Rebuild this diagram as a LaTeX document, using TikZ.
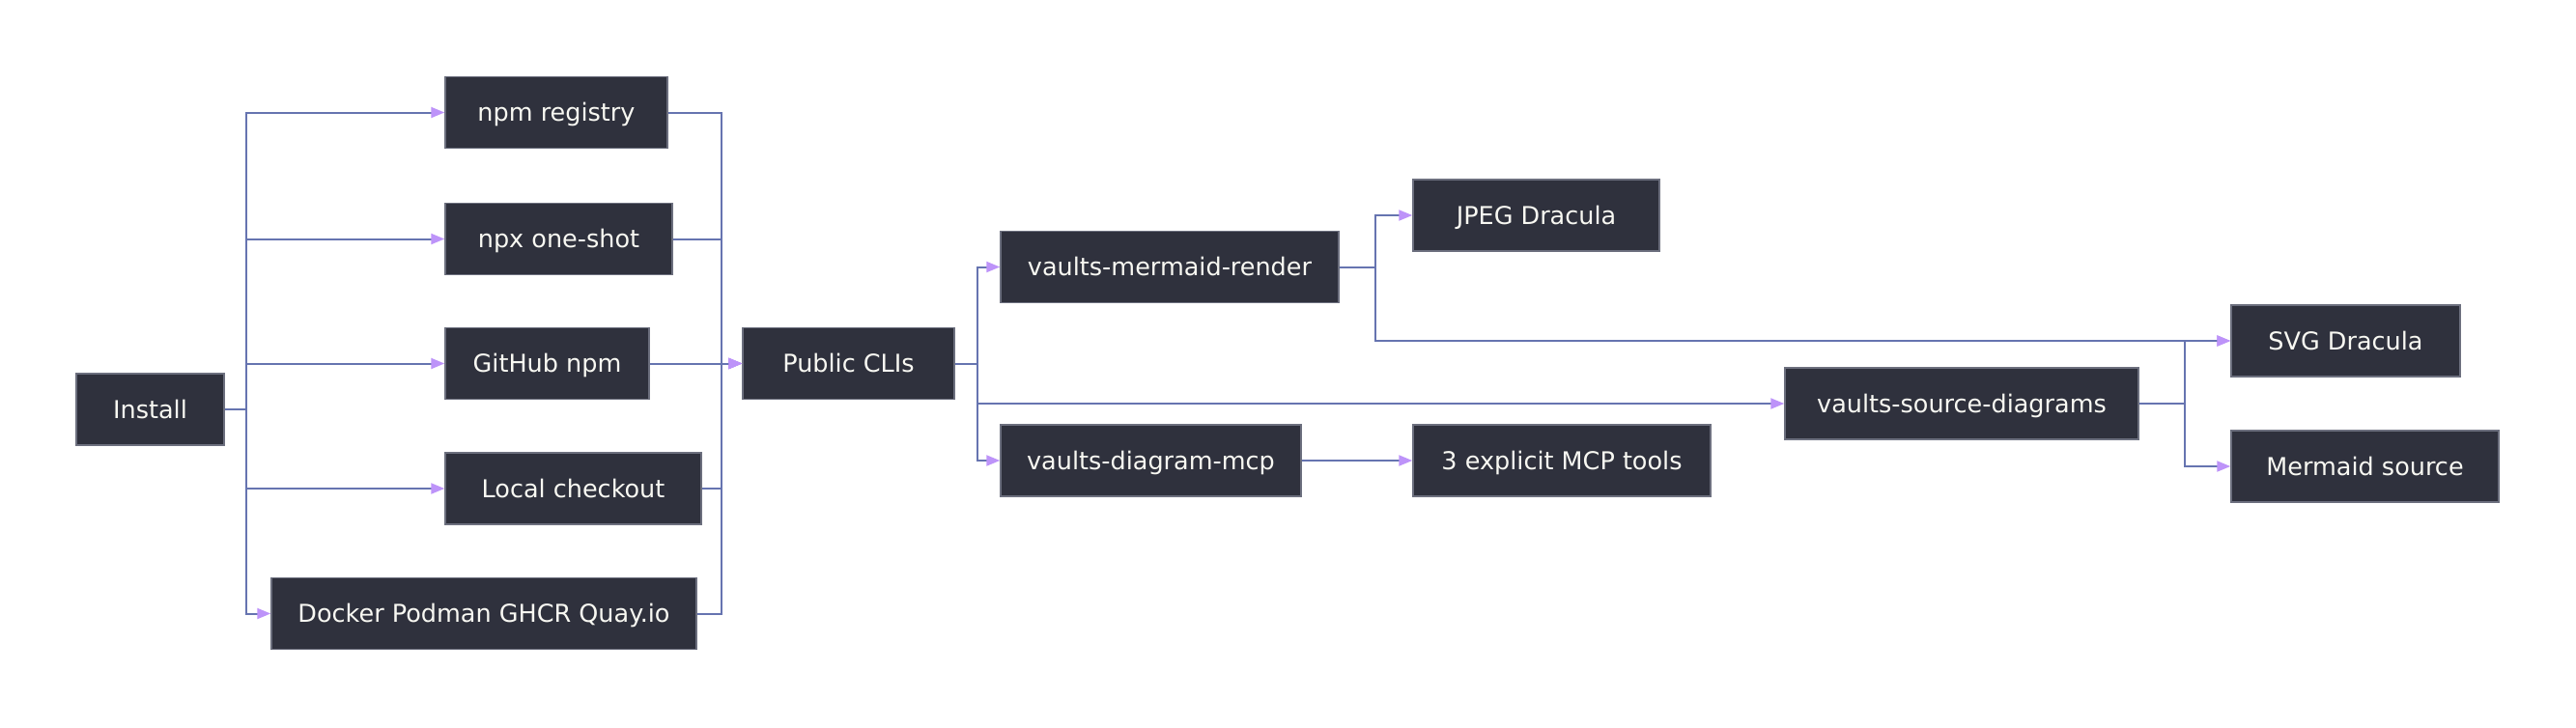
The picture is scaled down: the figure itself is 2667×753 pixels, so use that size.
\documentclass[tikz,border=0pt]{standalone}
\usepackage{fontspec}
\setmainfont{DejaVu Sans}
\usetikzlibrary{arrows.meta}
\definecolor{boxfill}{HTML}{2F313D}
\definecolor{boxline}{HTML}{6C6F7E}
\definecolor{edgec}{HTML}{6674B0}
\definecolor{tipc}{HTML}{BD93F9}
\definecolor{txtc}{HTML}{F8F8F2}
\tikzset{
  box/.style={draw=boxline, line width=1.5pt, fill=boxfill, text=txtc,
    minimum height=74pt, inner sep=0pt, text height=18.6pt, text depth=0pt,
    font=\fontsize{25.5}{30}\selectfont},
  edge/.style={draw=edgec, line width=2pt},
  arr/.style={edge, -{Triangle[length=14pt,width=11pt,color=tipc]}}
}
\begin{document}
\begin{tikzpicture}[x=1pt,y=-1pt]
\useasboundingbox (0,0) rectangle (2667,753);
\fill[white] (0,0) rectangle (2667,753);
% nodes
\node[box, minimum width=153pt] (install) at (155.5,424) {Install};
\node[box, minimum width=230pt] (npm) at (576,116.5) {npm registry};
\node[box, minimum width=235pt] (npx) at (578.5,247.5) {npx one-shot};
\node[box, minimum width=211pt] (gh) at (566.5,376.5) {GitHub npm};
\node[box, minimum width=265pt] (local) at (593.5,506) {Local checkout};
\node[box, minimum width=440pt] (docker) at (501,635.5) {Docker Podman GHCR Quay.io};
\node[box, minimum width=219pt] (pub) at (878.5,376.5) {Public CLIs};
\node[box, minimum width=350pt] (vmr) at (1211,276.5) {vaults-mermaid-render};
\node[box, minimum width=311pt] (vdm) at (1191.5,477) {vaults-diagram-mcp};
\node[box, minimum width=255pt] (jpeg) at (1590.5,223) {JPEG Dracula};
\node[box, minimum width=308pt] (tools) at (1617,477) {3 explicit MCP tools};
\node[box, minimum width=366pt] (vsd) at (2031,418) {vaults-source-diagrams};
\node[box, minimum width=237pt] (svg) at (2428.5,353) {SVG Dracula};
\node[box, minimum width=277pt] (ms) at (2448.5,483) {Mermaid source};
% branch coordinates
\coordinate (bi) at (255,424);
\coordinate (bj) at (747,376.5);
\coordinate (bp) at (1012,376.5);
\coordinate (bm) at (1424,276.5);
\coordinate (bs) at (2262,418);
% Install -> sources
\foreach \t in {npm,npx,gh,local,docker}
  \draw[arr] (install.east) -- (bi) |- (\t.west);
% sources -> Public CLIs
\foreach \s in {npm,npx,gh,local,docker}
  \draw[arr] (\s.east) -| (bj) |- (pub.west);
% Public CLIs -> tools
\draw[arr] (pub.east) -- (bp) |- (vmr.west);
\draw[arr] (pub.east) -- (bp) |- (vdm.west);
\draw[arr] (pub.east) -- (bp) |- (vsd.west);
% vaults-mermaid-render
\draw[arr] (vmr.east) -- (bm) |- (jpeg.west);
\draw[arr] (vmr.east) -- (bm) |- (svg.west);
% vaults-diagram-mcp
\draw[arr] (vdm.east) -- (tools.west);
% vaults-source-diagrams
\draw[arr] (vsd.east) -- (bs) |- (svg.west);
\draw[arr] (vsd.east) -- (bs) |- (ms.west);
\end{tikzpicture}
\end{document}
